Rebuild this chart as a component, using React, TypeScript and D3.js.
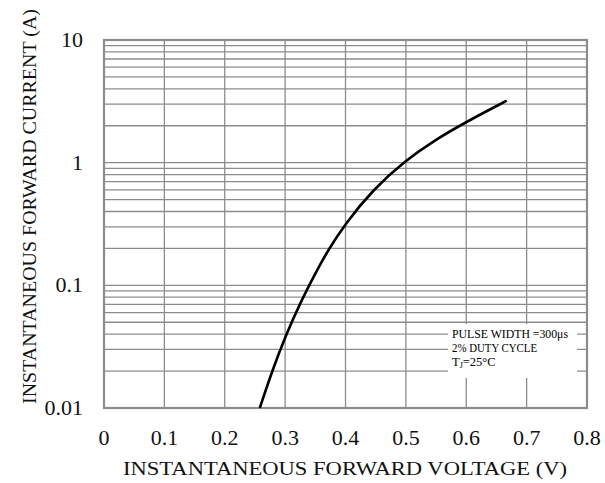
import React from 'react';
import * as d3 from 'd3';

const voltage = [0.258, 0.28, 0.3, 0.325, 0.35, 0.37, 0.4, 0.445, 0.5, 0.55, 0.6, 0.667];
const current = [0.01, 0.021, 0.038, 0.072, 0.125, 0.19, 0.32, 0.6, 1.05, 1.55, 2.15, 3.2];
const xTicks = [0, 0.1, 0.2, 0.3, 0.4, 0.5, 0.6, 0.7, 0.8];
const yTicks = [0.01, 0.1, 1, 10];
const yTickLabels = ['0.01', '0.1', '1', '10'];
const noteLines = ['PULSE WIDTH =300\u03bcs', '2% DUTY CYCLE'];
const noteWidths = [116, 85];

const W = 605;
const H = 483;
const left = 104;
const right = 587;
const top = 40;
const bottom = 408;
const font = '"Liberation Serif", "Times New Roman", serif';

export default function App() {
  const x = d3.scaleLinear().domain([0, 0.8]).range([left, right]);
  const y = d3.scaleLog().domain([0.01, 10]).range([bottom, top]);

  // minor + major horizontal lines
  const hLines: number[] = [];
  for (const dec of [0.01, 0.1, 1]) {
    for (let k = 2; k <= 9; k++) hLines.push(dec * k);
  }

  const line = d3
    .line<number>()
    .x((d) => x(d))
    .y((_, i) => y(current[i]))
    .curve(d3.curveBasis);

  return (
    <svg
      width={W}
      height={H}
      style={{ position: 'absolute', left: 0, top: 0, background: '#fff' }}
    >
      <g stroke="#8c8c8c" strokeWidth={1.3} fill="none">
        {xTicks.slice(1, -1).map((t) => (
          <line key={'v' + t} x1={x(t)} x2={x(t)} y1={top} y2={bottom} />
        ))}
        {hLines.map((v, i) => (
          <line key={'h' + i} x1={left} x2={right} y1={y(v)} y2={y(v)} />
        ))}
        {yTicks.slice(1, -1).map((v) => (
          <line key={'m' + v} x1={left} x2={right} y1={y(v)} y2={y(v)} />
        ))}
      </g>
      {/* note box */}
      <rect x={448} y={324} width={129} height={54} fill="#fff" />
      <g fontFamily={font} fontSize={12.5} fill="#000">
        {noteLines.map((s, i) => (
          <text
            key={s}
            x={452}
            y={338 + i * 14}
            textLength={noteWidths[i]}
            lengthAdjust="spacingAndGlyphs"
          >
            {s}
          </text>
        ))}
        <text x={452} y={366}>
          T<tspan fontSize={8} dy={2}>J</tspan>
          <tspan dy={-2}>=25°C</tspan>
        </text>
      </g>
      <rect
        x={left}
        y={top}
        width={right - left}
        height={bottom - top}
        fill="none"
        stroke="#8c8c8c"
        strokeWidth={2.2}
      />
      <path d={line(voltage) || ''} fill="none" stroke="#000" strokeWidth={2.6} />
      <g fontFamily={font} fontSize={22} fill="#111">
        {xTicks.map((t) => (
          <text key={'xt' + t} x={x(t)} y={445} textAnchor="middle">
            {t === 0 ? '0' : String(t)}
          </text>
        ))}
        {yTicks.map((v, i) => (
          <text key={'yt' + v} x={83} y={y(v) + 7} textAnchor="end">
            {yTickLabels[i]}
          </text>
        ))}
      </g>
      <text
        x={123}
        y={475}
        textLength={444}
        lengthAdjust="spacingAndGlyphs"
        fontFamily={font}
        fontSize={18.5}
        fill="#111"
      >
        INSTANTANEOUS FORWARD VOLTAGE (V)
      </text>
      <text
        transform={`translate(36, 404) rotate(-90)`}
        textLength={395}
        lengthAdjust="spacingAndGlyphs"
        fontFamily={font}
        fontSize={19}
        fill="#111"
      >
        INSTANTANEOUS FORWARD CURRENT (A)
      </text>
    </svg>
  );
}
